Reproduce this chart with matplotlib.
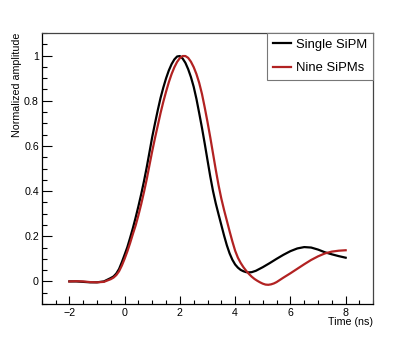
import matplotlib
matplotlib.use("Agg")
import matplotlib.pyplot as plt
from matplotlib.ticker import MultipleLocator, FuncFormatter

plt.rcParams['font.family'] = ['Liberation Sans', 'DejaVu Sans']

# Single SiPM (time in ns, normalized amplitude)
t_single = [-2.0, -1.75, -1.5, -1.25, -1.0, -0.75, -0.5, -0.4, -0.3, -0.2, -0.1,
            0.0, 0.1, 0.2, 0.3, 0.4, 0.5, 0.6, 0.7, 0.8, 0.9,
            1.0, 1.1, 1.2, 1.3, 1.4, 1.5, 1.6, 1.7, 1.8, 1.9,
            2.0, 2.1, 2.2, 2.3, 2.4, 2.5, 2.6, 2.7, 2.8, 2.9,
            3.0, 3.1, 3.2, 3.3, 3.4, 3.5, 3.6, 3.7, 3.8, 3.9,
            4.0, 4.1, 4.2, 4.3, 4.4, 4.5, 4.6, 4.75, 5.0, 5.25, 5.5, 5.75,
            6.0, 6.25, 6.5, 6.75, 7.0, 7.25, 7.5, 7.75, 8.0]
v_single = [0.0, 0.0, -0.002, -0.004, -0.004, 0.0, 0.015, 0.022, 0.035, 0.055, 0.085,
            0.118, 0.152, 0.193, 0.236, 0.283, 0.333, 0.386, 0.443, 0.505, 0.572,
            0.64, 0.70, 0.758, 0.812, 0.858, 0.899, 0.934, 0.962, 0.983, 0.996,
            0.998, 0.987, 0.968, 0.94, 0.905, 0.862, 0.808, 0.745, 0.68, 0.61,
            0.537, 0.465, 0.40, 0.345, 0.297, 0.25, 0.203, 0.16, 0.124, 0.096,
            0.075, 0.061, 0.051, 0.045, 0.041, 0.04, 0.041, 0.047, 0.063, 0.081, 0.10, 0.118,
            0.134, 0.146, 0.152, 0.150, 0.141, 0.129, 0.12, 0.112, 0.105]

# Nine SiPMs
t_nine = [-2.0, -1.75, -1.5, -1.25, -1.0, -0.75, -0.5, -0.4, -0.3, -0.2, -0.1,
          0.0, 0.1, 0.2, 0.3, 0.4, 0.5, 0.6, 0.7, 0.8, 0.9,
          1.0, 1.1, 1.2, 1.3, 1.4, 1.5, 1.6, 1.7, 1.8, 1.9,
          2.0, 2.1, 2.2, 2.3, 2.4, 2.5, 2.6, 2.7, 2.8, 2.9,
          3.0, 3.1, 3.2, 3.3, 3.4, 3.5, 3.6, 3.7, 3.8, 3.9,
          4.0, 4.1, 4.2, 4.3, 4.4, 4.5, 4.6, 4.7, 4.8, 4.9,
          5.0, 5.1, 5.2, 5.3, 5.4, 5.5, 5.75,
          6.0, 6.25, 6.5, 6.75, 7.0, 7.25, 7.5, 7.75, 8.0]
v_nine = [0.0, 0.001, 0.0, -0.003, -0.004, -0.002, 0.01, 0.017, 0.028, 0.045, 0.07,
          0.10, 0.133, 0.17, 0.21, 0.248, 0.293, 0.342, 0.395, 0.452, 0.515,
          0.577, 0.635, 0.69, 0.745, 0.795, 0.84, 0.882, 0.918, 0.948, 0.972,
          0.989, 0.998, 0.998, 0.99, 0.973, 0.949, 0.918, 0.879, 0.83, 0.77,
          0.706, 0.638, 0.566, 0.494, 0.426, 0.367, 0.316, 0.269, 0.222, 0.177,
          0.136, 0.105, 0.082, 0.063, 0.047, 0.033, 0.021, 0.011, 0.003, -0.004,
          -0.01, -0.014, -0.015, -0.013, -0.009, -0.003, 0.017,
          0.036, 0.056, 0.076, 0.095, 0.111, 0.124, 0.132, 0.136, 0.138]

labels = ["Single SiPM", "Nine SiPMs"]
colors = ["black", "#b22222"]

W, H = 415, 338
fig = plt.figure(figsize=(W / 100, H / 100), dpi=100)
ax = fig.add_axes([41.7 / W, 1 - 304 / H, (373.3 - 41.7) / W, (304 - 33) / H])

ax.plot(t_single, v_single, color=colors[0], lw=1.6, label=labels[0], solid_joinstyle='round')
ax.plot(t_nine, v_nine, color=colors[1], lw=1.6, label=labels[1], solid_joinstyle='round')

ax.set_xlim(-3, 9)
ax.set_ylim(-0.1, 1.1)
ax.xaxis.set_major_locator(MultipleLocator(2))
ax.xaxis.set_minor_locator(MultipleLocator(0.5))
ax.yaxis.set_major_locator(MultipleLocator(0.2))
ax.yaxis.set_minor_locator(MultipleLocator(0.05))
ax.yaxis.set_major_formatter(FuncFormatter(lambda v, p: ("%g" % round(v, 2)).replace("-", "\u2212")))
ax.xaxis.set_major_formatter(FuncFormatter(lambda v, p: ("%g" % v).replace("-", "\u2212")))

ax.tick_params(axis='y', which='major', direction='in', length=7.2, width=0.8, labelsize=7.7, pad=2)
ax.tick_params(axis='y', which='minor', direction='in', length=3.6, width=0.8)
ax.tick_params(axis='x', which='major', direction='in', length=5.8, width=0.8, labelsize=7.7, pad=3)
ax.tick_params(axis='x', which='minor', direction='in', length=2.9, width=0.8)
for s in ['left', 'bottom']:
    ax.spines[s].set_linewidth(0.9)
for s in ['top', 'right']:
    ax.spines[s].set_linewidth(0.9)
    ax.spines[s].set_color('#444444')

fig.text(373.3 / W, 1 - 321.7 / H, "Time (ns)", ha='right', va='center', fontsize=7.7)
fig.text(17.5 / W, 1 - 33 / H, "Normalized amplitude", ha='center', va='top', rotation=90, fontsize=7.7)

leg = ax.legend(loc='upper right', bbox_to_anchor=(373.3 / W, 1 - 33 / H), bbox_transform=fig.transFigure,
                borderaxespad=0, fancybox=False, edgecolor='#777777', framealpha=1, fontsize=9.4,
                handlelength=1.4, handletextpad=0.4, labelspacing=0.85, borderpad=0.45)
leg.get_frame().set_linewidth(0.8)

fig.savefig("out.png", dpi=100)
